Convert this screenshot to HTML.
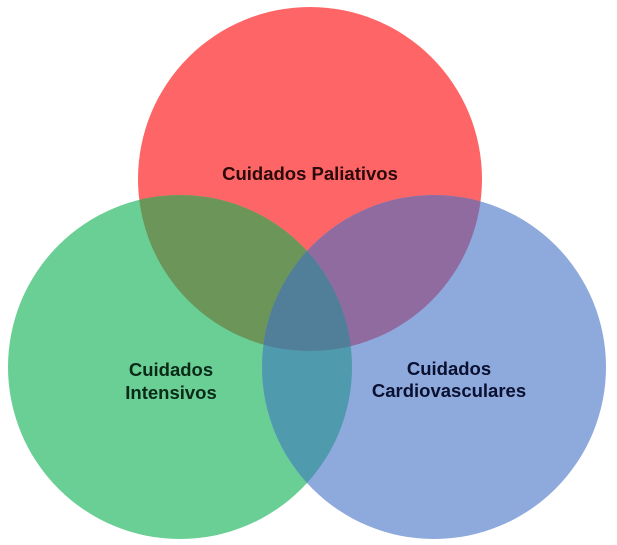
<!DOCTYPE html>
<html><head><style>html,body{margin:0;padding:0;background:#fff}svg{display:block}</style></head>
<body>
<svg width="617" height="545" viewBox="0 0 617 545" xmlns="http://www.w3.org/2000/svg">
<defs>
<clipPath id="r"><circle cx="310" cy="179" r="172"/></clipPath>
<clipPath id="g"><circle cx="180" cy="367" r="172"/></clipPath>
<clipPath id="b"><circle cx="434" cy="367" r="172"/></clipPath>
</defs>
<circle cx="310" cy="179" r="172" fill="#fe6566"/>
<circle cx="180" cy="367" r="172" fill="#6acf95"/>
<circle cx="434" cy="367" r="172" fill="#8ea9dc"/>
<g clip-path="url(#r)"><circle cx="180" cy="367" r="172" fill="#6b9559"/><circle cx="434" cy="367" r="172" fill="#8f6ba0"/></g>
<g clip-path="url(#g)"><circle cx="434" cy="367" r="172" fill="#509aae"/></g>
<g clip-path="url(#r)"><g clip-path="url(#g)"><circle cx="434" cy="367" r="172" fill="#517f9a"/></g></g>
<g font-family="Liberation Sans, sans-serif" font-weight="bold" font-size="18.5" text-anchor="middle">
<text x="310" y="180" fill="#2a0a0a">Cuidados Paliativos</text>
<text x="171" y="376" fill="#0a2a18">Cuidados</text>
<text x="171" y="399" fill="#0a2a18">Intensivos</text>
<text x="449" y="375" fill="#0a1030">Cuidados</text>
<text x="449" y="397" fill="#0a1030">Cardiovasculares</text>
</g>
</svg>
</body></html>
